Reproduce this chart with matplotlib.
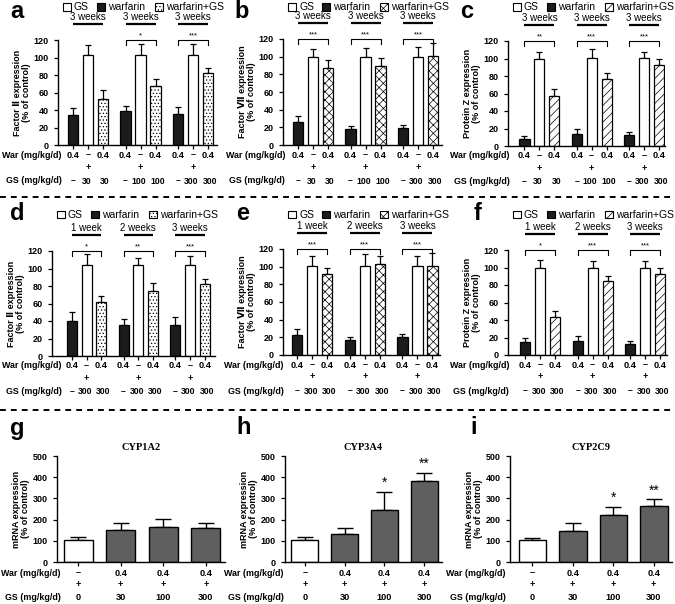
import numpy as np
import matplotlib
matplotlib.use("Agg")
import matplotlib.pyplot as plt
from matplotlib.lines import Line2D
from matplotlib.patches import Rectangle

plt.rcParams['font.family'] = ['Liberation Sans', 'DejaVu Sans']
plt.rcParams['hatch.linewidth'] = 0.5

# ---- data ----
weeks_same = ['3 weeks', '3 weeks', '3 weeks']
weeks_time = ['1 week', '2 weeks', '3 weeks']
war_row = ['0.4', '–', '0.4']
gs_row_dose = [['–', '30', '30'], ['–', '100', '100'], ['–', '300', '300']]
gs_row_time = [['–', '300', '300'], ['–', '300', '300'], ['–', '300', '300']]

# a: Factor II, 3 weeks, GS 30/100/300
a_war = [34, 39, 35]
a_war_sd = [8, 6, 8]
a_gs = [103, 103, 103]
a_gs_sd = [11, 12, 13]
a_mix = [53, 68, 82]
a_mix_sd = [10, 8, 6]
a_sig = ['', '*', '***']

# b: Factor VII
b_war = [26, 18, 19]
b_war_sd = [7, 4, 4]
b_gs = [100, 100, 100]
b_gs_sd = [9, 10, 11]
b_mix = [87, 89, 101]
b_mix_sd = [9, 9, 15]
b_sig = ['***', '***', '***']

# c: Protein Z
c_war = [8, 14, 13]
c_war_sd = [3, 5, 3]
c_gs = [100, 101, 101]
c_gs_sd = [8, 10, 7]
c_mix = [57, 77, 93]
c_mix_sd = [8, 6, 7]
c_sig = ['**', '***', '***']

# d: Factor II, 1/2/3 weeks, GS 300
d_war = [40, 35, 36]
d_war_sd = [10, 7, 9]
d_gs = [104, 104, 104]
d_gs_sd = [13, 8, 10]
d_mix = [62, 74, 82]
d_mix_sd = [7, 10, 6]
d_sig = ['*', '**', '***']

# e: Factor VII
e_war = [23, 17, 20]
e_war_sd = [7, 3, 4]
e_gs = [101, 101, 101]
e_gs_sd = [11, 13, 11]
e_mix = [92, 103, 101]
e_mix_sd = [7, 9, 15]
e_sig = ['***', '***', '***']

# f: Protein Z
f_war = [15, 16, 13]
f_war_sd = [4, 6, 3]
f_gs = [100, 100, 100]
f_gs_sd = [9, 8, 7]
f_mix = [43, 85, 93]
f_mix_sd = [7, 5, 7]
f_sig = ['*', '***', '***']

# g-i: mRNA expression
cyp_war = ['–', '0.4', '0.4', '0.4']
cyp_gs = ['0', '30', '100', '300']
g_vals = [102, 153, 167, 160]
g_sd = [14, 30, 35, 25]
g_sig = ['', '', '', '']
h_vals = [105, 133, 247, 381]
h_sd = [12, 28, 85, 40]
h_sig = ['', '', '*', '**']
i_vals = [104, 147, 222, 262]
i_sd = [8, 35, 38, 33]
i_sig = ['', '', '*', '**']

W, H = 675, 604
fig = plt.figure(figsize=(W / 100, H / 100), dpi=100)


def rect_px(l, r, t, b):
    return [l / W, 1 - b / H, (r - l) / W, (b - t) / H]


def under(ax, x, txt, off, size=6.6, dx=0):
    ax.annotate(txt, xy=(x, 0), xytext=(dx, -off), textcoords='offset pixels',
                ha='center', va='center', fontsize=size, fontweight='bold',
                annotation_clip=False)


def row_label(xr, y, txt):
    fig.text(xr / W, 1 - y / H, txt, ha='right', va='center', fontsize=6.4,
             fontweight='bold')


def style_axes(ax):
    for s in ['top', 'right']:
        ax.spines[s].set_visible(False)
    for s in ['left', 'bottom']:
        ax.spines[s].set_linewidth(1.0)
    ax.tick_params(axis='both', direction='out', length=3, width=0.9, labelsize=6.5)
    for lab in ax.get_yticklabels():
        lab.set_fontweight('bold')


def legend_px(left, ytop, hatch):
    items = [('white', None, 'GS'), ('#1c1c1c', None, 'warfarin'), ('white', hatch, 'warfarin+GS')]
    offs = [5, 39, 97]
    for (fc, hh, lab), o in zip(items, offs):
        x0 = left + o
        fig.add_artist(Rectangle((x0 / W, 1 - (ytop + 3.5) / H), 8 / W, 7 / H,
                                 transform=fig.transFigure, facecolor=fc,
                                 edgecolor='black', linewidth=0.8, hatch=hh))
        fig.text((x0 + 11) / W, 1 - ytop / H, lab, fontsize=7.5, va='center', ha='left')


def triple_panel(rect, xlim, lab_x, ylab, hatch, war, war_sd, gs, gs_sd, mix, mix_sd,
                 sig, weeks, gs_rows, legend_y):
    l, r, t, b = rect
    ax = fig.add_axes(rect_px(l, r, t, b))
    xs_all = []
    for g in range(3):
        base = 3.5 * g
        xs = [base, base + 1, base + 2]
        xs_all += xs
        vals = [war[g], gs[g], mix[g]]
        sds = [war_sd[g], gs_sd[g], mix_sd[g]]
        colors = ['#1c1c1c', 'white', 'white']
        hatches = [None, None, hatch]
        for x, v, s, c, hh in zip(xs, vals, sds, colors, hatches):
            ax.bar(x, v, width=0.68, color=c, edgecolor='black', linewidth=0.9, hatch=hh, zorder=2)
            ax.errorbar(x, v, yerr=[[0], [s]], fmt='none', ecolor='black',
                        elinewidth=0.9, capsize=2.5, capthick=0.9, zorder=1)
        # week labels with underline
        ax.text(base + 1, 146, weeks[g], ha='center', va='center', fontsize=7, clip_on=False)
        ax.plot([base, base + 2], [138, 138], color='black', lw=1.6, clip_on=False,
                solid_capstyle='butt')
        if sig[g]:
            ax.plot([base, base, base + 2, base + 2], [114, 120, 120, 114], color='black',
                    lw=0.8, clip_on=False)
            ax.text(base + 1, 120.5, sig[g], ha='center', va='bottom', fontsize=5.5, clip_on=False)
        for x, txt in zip(xs, war_row):
            under(ax, x, txt, 10)
        under(ax, xs[1], '+', 22)
        for x, txt, dx in zip(xs, gs_rows[g], [0, -1.5, 2]):
            under(ax, x, txt, 36, size=6.2, dx=dx)
    row_label(lab_x, b + 10, 'War (mg/kg/d)')
    row_label(lab_x, b + 36, 'GS (mg/kg/d)')
    ax.set_xlim(*xlim)
    ax.set_ylim(0, 120)
    ax.set_yticks(np.arange(0, 121, 20))
    ax.set_xticks(xs_all)
    ax.set_xticklabels([])
    ax.set_ylabel(ylab + '\n(% of control)', fontsize=6.5, fontweight='bold', labelpad=2,
                  linespacing=1.0)
    style_axes(ax)
    legend_px(l, legend_y, hatch)
    return ax


def cyp_panel(rect, xlim, lab_x, title, vals, sd, sig):
    l, r, t, b = rect
    ax = fig.add_axes(rect_px(l, r, t, b))
    xs = np.arange(len(vals))
    colors = ['white', '#5f5f5f', '#5f5f5f', '#5f5f5f']
    for x, v, s, c in zip(xs, vals, sd, colors):
        ax.bar(x, v, width=0.68, color=c, edgecolor='black', linewidth=1.0, zorder=2)
        ax.errorbar(x, v, yerr=[[0], [s]], fmt='none', ecolor='black',
                    elinewidth=1.0, capsize=6, capthick=1.0, zorder=1)
    for x, v, s, st in zip(xs, vals, sd, sig):
        if st:
            ax.text(x, v + s + 8, st, ha='center', va='bottom', fontsize=10, clip_on=False)
    for x, w, gsd in zip(xs, cyp_war, cyp_gs):
        under(ax, x, w, 11)
        under(ax, x, '+', 22)
        under(ax, x, gsd, 35)
    row_label(lab_x, b + 11, 'War (mg/kg/d)')
    row_label(lab_x, b + 35, 'GS (mg/kg/d)')
    ax.set_xlim(*xlim)
    ax.set_ylim(0, 500)
    ax.set_yticks(np.arange(0, 501, 100))
    ax.set_xticks(xs)
    ax.set_xticklabels([])
    ax.set_title(title, fontsize=7.5, fontweight='bold', family='Liberation Serif', pad=4)
    ax.set_ylabel('mRNA expression\n(% of control)', fontsize=6.5, fontweight='bold',
                  labelpad=2, linespacing=1.0)
    style_axes(ax)
    return ax


triple_panel((58, 217, 40, 145), (-1.0, 9.6), 62, 'Factor Ⅱ expression', '.....',
             a_war, a_war_sd, a_gs, a_gs_sd, a_mix, a_mix_sd, a_sig, weeks_same, gs_row_dose, 7)
triple_panel((283, 442, 39, 145), (-1.0, 9.6), 285, 'Factor Ⅶ expression', 'xxxx',
             b_war, b_war_sd, b_gs, b_gs_sd, b_mix, b_mix_sd, b_sig, weeks_same, gs_row_dose, 7)
triple_panel((508, 665, 41, 146), (-1.1, 9.4), 510, 'Protein Z expression', '////',
             c_war, c_war_sd, c_gs, c_gs_sd, c_mix, c_mix_sd, c_sig, weeks_same, gs_row_dose, 7)
triple_panel((52, 215, 251, 356), (-1.35, 9.7), 62, 'Factor Ⅱ expression', '.....',
             d_war, d_war_sd, d_gs, d_gs_sd, d_mix, d_mix_sd, d_sig, weeks_time, gs_row_time, 215)
triple_panel((283, 440, 249, 355), (-0.95, 9.5), 284, 'Factor Ⅶ expression', 'xxxx',
             e_war, e_war_sd, e_gs, e_gs_sd, e_mix, e_mix_sd, e_sig, weeks_time, gs_row_time, 215)
triple_panel((508, 667, 250, 355), (-1.15, 9.45), 509, 'Protein Z expression', '////',
             f_war, f_war_sd, f_gs, f_gs_sd, f_mix, f_mix_sd, f_sig, weeks_time, gs_row_time, 215)

cyp_panel((57, 225, 456, 562), (-0.5, 3.45), 61, 'CYP1A2', g_vals, g_sd, g_sig)
cyp_panel((285, 442, 456, 562), (-0.5, 3.45), 284, 'CYP3A4', h_vals, h_sd, h_sig)
cyp_panel((510, 672, 456, 562), (-0.55, 3.45), 506, 'CYP2C9', i_vals, i_sd, i_sig)

# panel letters
letters = [('a', 10, 11), ('b', 234, 11), ('c', 460, 11),
           ('d', 10, 214), ('e', 236, 214), ('f', 474, 214),
           ('g', 10, 428), ('h', 236, 428), ('i', 470, 428)]
for lt, x, y in letters:
    fig.text(x / W, 1 - y / H, lt, fontsize=17, fontweight='bold', ha='left', va='center')

# dashed separators
for y in [197, 410]:
    fig.add_artist(Line2D([0, 1], [1 - y / H] * 2, transform=fig.transFigure,
                          color='black', lw=1.4, ls=(0, (3, 2.6))))

fig.savefig('out.png', dpi=100)
